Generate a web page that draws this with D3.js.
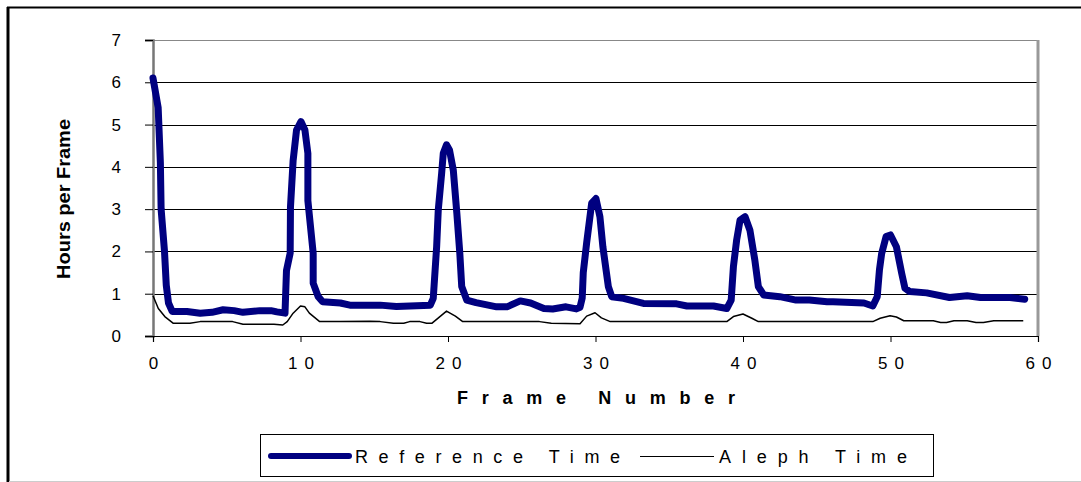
<!DOCTYPE html>
<html><head><meta charset="utf-8">
<script src="https://cdn.jsdelivr.net/npm/d3@7"></script>
<style>body{margin:0;background:#fff} text{font-family:"Liberation Sans",Arial,sans-serif;fill:#000}</style>
</head><body><svg id="c" width="1081" height="482"></svg>
<script>
const refFrames = [0,0.35,0.5,0.55,0.78,0.9,1.05,1.3,2.3,3.2,4.0,4.75,5.5,6.1,7.25,8.0,8.4,8.95,9.05,9.3,9.32,9.5,9.73,10.03,10.3,10.5,10.5,10.86,10.86,11.2,11.5,12.7,13.35,15.4,16.5,18.8,19.0,19.23,19.34,19.57,19.68,19.9,20.1,20.36,20.6,20.8,20.93,21.27,21.9,23.3,24.0,24.9,25.6,26.5,27.1,28.0,28.7,28.95,29.1,29.17,29.4,29.74,30.03,30.3,30.5,30.87,31.1,31.9,33.25,35.5,36.2,38.0,38.9,39.2,39.35,39.57,39.8,40.14,40.47,40.8,41.04,41.4,42.5,43.6,44.5,45.7,46.1,48.2,48.8,49.1,49.25,49.4,49.7,50.0,50.4,50.76,50.98,51.3,52.45,54.0,55.2,56.1,58.1,59.1];
const refHours = [6.1,5.4,4.1,3.0,2.0,1.2,0.78,0.58,0.58,0.54,0.56,0.62,0.6,0.56,0.6,0.6,0.57,0.54,1.55,1.96,3.05,4.15,4.87,5.07,4.87,4.32,3.2,1.96,1.25,0.93,0.81,0.78,0.73,0.73,0.70,0.73,0.89,2.11,2.98,3.85,4.32,4.52,4.4,3.92,2.9,1.96,1.17,0.85,0.79,0.69,0.69,0.83,0.78,0.65,0.64,0.69,0.64,0.68,0.9,1.5,2.2,3.14,3.25,2.82,2.11,1.17,0.93,0.89,0.77,0.76,0.71,0.71,0.65,0.85,1.64,2.27,2.74,2.82,2.5,1.8,1.17,0.97,0.93,0.85,0.85,0.81,0.81,0.78,0.71,0.93,1.56,1.95,2.35,2.39,2.11,1.48,1.13,1.05,1.02,0.91,0.95,0.91,0.91,0.87];
const alephFrames = [0,0.36,0.8,1.38,2.5,3.2,5.4,6.1,8.2,8.8,9.1,9.5,10.0,10.3,10.6,11.3,12.7,14.7,15.4,16.3,17.0,17.4,18.1,18.55,18.9,19.9,20.5,21.0,26.2,27.0,28.95,29.4,29.97,30.4,31.0,38.9,39.35,40.0,40.6,41.04,48.8,49.3,49.97,50.4,50.9,52.9,53.4,53.8,54.3,55.2,55.8,56.3,57.0,59.0];
const alephHours = [0.95,0.65,0.46,0.30,0.30,0.34,0.34,0.28,0.28,0.26,0.34,0.54,0.71,0.69,0.54,0.34,0.34,0.35,0.34,0.30,0.30,0.34,0.34,0.30,0.30,0.59,0.47,0.34,0.34,0.30,0.29,0.47,0.55,0.43,0.34,0.34,0.46,0.52,0.42,0.34,0.34,0.42,0.48,0.45,0.36,0.36,0.32,0.32,0.36,0.36,0.32,0.32,0.36,0.36];
const xTicks = [0,10,20,30,40,50,60];
const yTicks = [0,1,2,3,4,5,6,7];
const seriesNames = ["Reference Time","Aleph Time"];
const xTitle = "Frame Number";
const yTitle = "Hours per Frame";

const svg = d3.select("#c");
const x = d3.scaleLinear().domain([0,60]).range([153,1038]);
const y = d3.scaleLinear().domain([0,7]).range([336,40]);

// outer frame
svg.append("rect").attr("x",0).attr("y",0).attr("width",1081).attr("height",482).attr("fill","#fff");
svg.append("line").attr("x1",8).attr("x2",8).attr("y1",7).attr("y2",482).attr("stroke","#000").attr("stroke-width",3);
svg.append("line").attr("x1",7).attr("x2",1081).attr("y1",7.5).attr("y2",7.5).attr("stroke","#000").attr("stroke-width",2);
svg.append("line").attr("x1",9).attr("x2",1081).attr("y1",481.5).attr("y2",481.5).attr("stroke","#ccc").attr("stroke-width",1);

// gridlines
svg.append("g").selectAll("line").data(yTicks.filter(d=>d>0&&d<7)).join("line")
  .attr("x1",x(0)).attr("x2",x(60)).attr("y1",d=>Math.round(y(d))+0.5).attr("y2",d=>Math.round(y(d))+0.5)
  .attr("stroke","#000").attr("stroke-width",1);
// plot border top & right
svg.append("line").attr("x1",x(0)).attr("x2",x(60)).attr("y1",y(7)+0.5).attr("y2",y(7)+0.5).attr("stroke","#888").attr("stroke-width",1);
svg.append("line").attr("x1",x(60)).attr("x2",x(60)).attr("y1",y(7)).attr("y2",y(0)).attr("stroke","#999").attr("stroke-width",3);

// axes
const yAxis = svg.append("g").attr("transform",`translate(${x(0)},0)`)
  .call(d3.axisLeft(y).tickValues(yTicks).tickSize(8).tickPadding(24).tickFormat(d3.format("d")));
yAxis.select(".domain").attr("stroke","#777").attr("stroke-width",2.5);
yAxis.selectAll(".tick line").attr("stroke","#000");
yAxis.selectAll("text").style("font-size","17px").attr("fill","#000");

const xAxis = svg.append("g").attr("transform",`translate(0,${y(0)})`)
  .call(d3.axisBottom(x).tickValues(xTicks).tickSize(6).tickPadding(15).tickFormat(d3.format("d")));
xAxis.select(".domain").attr("stroke","#000").attr("stroke-width",1.2);
xAxis.selectAll(".tick line").attr("stroke","#000");
xAxis.selectAll("text").style("font-size","17px").style("letter-spacing","7px").attr("dx","3.5px").attr("fill","#000");

// series
const lineGen = (fr,hv)=>d3.line().x((d,i)=>x(fr[i])).y((d,i)=>y(hv[i]))(hv);
svg.append("path").attr("d",lineGen(refFrames,refHours)).attr("fill","none")
  .attr("stroke","#000080").attr("stroke-width",7).attr("stroke-linejoin","round").attr("stroke-linecap","round");
svg.append("path").attr("d",lineGen(alephFrames,alephHours)).attr("fill","none")
  .attr("stroke","#000").attr("stroke-width",1.5).attr("stroke-linejoin","round");

// titles
svg.append("text").attr("x",596).attr("y",404).attr("text-anchor","middle")
  .style("font-size","18px").style("font-weight","bold")
  .attr("textLength",278).attr("lengthAdjust","spacing").text(xTitle);
svg.append("text").attr("transform","translate(70,199) rotate(-90)").attr("text-anchor","middle")
  .style("font-size","18px").style("font-weight","bold")
  .attr("textLength",160).attr("lengthAdjust","spacingAndGlyphs").text(yTitle);

// legend
const lg = svg.append("g");
lg.append("rect").attr("x",260.5).attr("y",434.5).attr("width",673).attr("height",42)
  .attr("fill","#fff").attr("stroke","#000").attr("stroke-width",1);
lg.append("line").attr("x1",271).attr("x2",349).attr("y1",456).attr("y2",456)
  .attr("stroke","#000080").attr("stroke-width",6).attr("stroke-linecap","round");
lg.append("text").attr("x",355).attr("y",463).style("font-size","18px")
  .attr("textLength",265).attr("lengthAdjust","spacing").text(seriesNames[0]);
lg.append("line").attr("x1",640).attr("x2",714).attr("y1",456.5).attr("y2",456.5)
  .attr("stroke","#000").attr("stroke-width",1.2);
lg.append("text").attr("x",719).attr("y",463).style("font-size","18px")
  .attr("textLength",188).attr("lengthAdjust","spacing").text(seriesNames[1]);
</script></body></html>
